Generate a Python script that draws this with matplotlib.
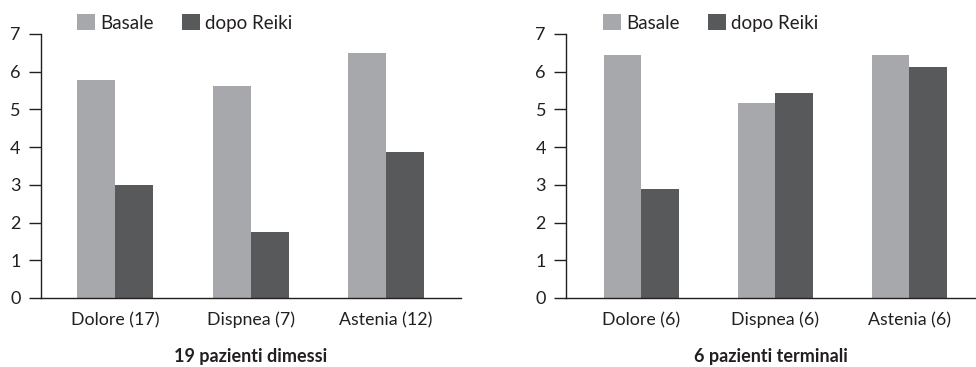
import matplotlib
matplotlib.use("Agg")
import matplotlib.pyplot as plt
from matplotlib.patches import Patch
import numpy as np

plt.rcParams['font.family'] = ['Lato', 'DejaVu Sans']

series_names = ["Basale", "dopo Reiki"]
colors = ["#a7a8ab", "#58595b"]

left_categories = ["Dolore (17)", "Dispnea (7)", "Astenia (12)"]
left_basale = [5.78, 5.62, 6.50]
left_dopo = [3.00, 1.75, 3.87]
left_title = "19 pazienti dimessi"

right_categories = ["Dolore (6)", "Dispnea (6)", "Astenia (6)"]
right_basale = [6.45, 5.17, 6.45]
right_dopo = [2.89, 5.44, 6.13]
right_title = "6 pazienti terminali"

yticks = [0, 1, 2, 3, 4, 5, 6, 7]

W, H = 976, 367
fig = plt.figure(figsize=(W / 100, H / 100), dpi=100)

axis_color = "#231f20"
text_color = "#231f20"


def panel(rect, cats, basale, dopo, title, xlim, leg_x):
    ax = fig.add_axes(rect)
    x = np.arange(len(cats))
    w = 0.28
    ax.bar(x - w / 2, basale, width=w, color=colors[0], linewidth=0)
    ax.bar(x + w / 2, dopo, width=w, color=colors[1], linewidth=0)
    ax.set_xlim(*xlim)
    ax.set_ylim(0, 7)
    ax.set_yticks(yticks)
    ax.set_yticklabels([str(v) for v in yticks])
    ax.set_xticks(x)
    ax.set_xticklabels(cats)
    for s in ["top", "right"]:
        ax.spines[s].set_visible(False)
    for s in ["left", "bottom"]:
        ax.spines[s].set_color(axis_color)
        ax.spines[s].set_linewidth(1.0)
    ax.tick_params(axis="y", length=8.4, width=1.0, color=axis_color, pad=6,
                   labelsize=13, labelcolor=text_color)
    ax.tick_params(axis="x", length=0, pad=10, labelsize=12.8, labelcolor=text_color)
    ax.text(0.5, -0.22, title, transform=ax.transAxes, ha="center", va="center",
            fontsize=13, fontweight="bold", color=text_color)
    handles = [Patch(facecolor=c, edgecolor="none") for c in colors]
    ax.legend(handles, series_names, loc="center left", bbox_to_anchor=(leg_x, 1.042),
              ncol=2, frameon=False, borderpad=0, borderaxespad=0,
              handlelength=0.96, handleheight=0.96, handletextpad=0.28,
              columnspacing=1.5, fontsize=13.5, labelcolor=text_color)
    return ax


def rect_px(x0, x1, ytop, ybot):
    return [x0 / W, (H - ybot) / H, (x1 - x0) / W, (ybot - ytop) / H]


panel(rect_px(40.7, 460.7, 34, 298), left_categories, left_basale, left_dopo,
      left_title, (-0.548, 2.55), 0.086)
panel(rect_px(566, 975, 34, 298), right_categories, right_basale, right_dopo,
      right_title, (-0.56, 2.49), 0.091)

fig.savefig("out.png", dpi=100)
